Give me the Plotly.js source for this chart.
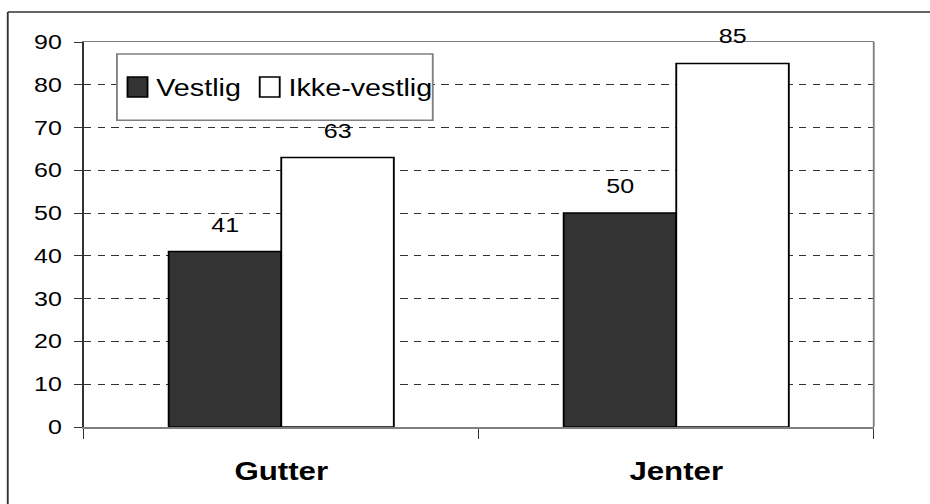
<!DOCTYPE html>
<html>
<head>
<meta charset="utf-8">
<script src="https://cdn.plot.ly/plotly-3.0.1.min.js"></script>
<style>
html,body{margin:0;padding:0;background:#fff;overflow:hidden;width:930px;height:504px;}
#chart{width:744px;height:504px;transform:scaleX(1.25);transform-origin:0 0;}
</style>
</head>
<body>
<div id="chart"></div>
<script>
const categories = ["Gutter", "Jenter"];
const seriesNames = ["Vestlig", "Ikke-vestlig"];
const vestlig = [41, 50];
const ikkeVestlig = [63, 85];
const yTicks = [0, 10, 20, 30, 40, 50, 60, 70, 80, 90];

const FONT = "Arial, 'Liberation Sans', sans-serif";
const seriesValues = [vestlig, ikkeVestlig];
const seriesFill = ["#333333", "#ffffff"];
const labelShift = [-45, 45];

const traces = seriesValues.map((vals, s) => ({
  type: "bar", name: seriesNames[s], x: categories, y: vals,
  marker: {color: seriesFill[s], line: {color: "#000000", width: 1.5}},
  hoverinfo: "skip"
}));

const annotations = [];
seriesValues.forEach((vals, s) => {
  vals.forEach((v, i) => {
    annotations.push({
      xref: "x", yref: "y", x: categories[i], y: v, text: String(v),
      showarrow: false, xanchor: "center", yanchor: "bottom",
      xshift: labelShift[s], yshift: 14,
      font: {family: FONT, size: 20, color: "#000"}
    });
  });
});

const layout = {
  width: 744, height: 504,
  margin: {l: 67, r: 45, t: 42, b: 77},
  paper_bgcolor: "#ffffff", plot_bgcolor: "#ffffff",
  font: {family: FONT, size: 20, color: "#000"},
  barmode: "group", bargap: 0.43, bargroupgap: 0,
  showlegend: true,
  legend: {
    orientation: "h", x: 0.0285, y: 0.883, xanchor: "left", yanchor: "middle",
    bgcolor: "rgba(0,0,0,0)", borderwidth: 0,
    font: {family: FONT, size: 23, color: "#000"}
  },
  xaxis: {
    type: "category", tickson: "boundaries", ticks: "outside", ticklen: 10, tickcolor: "#333", tickwidth: 1,
    showline: true, linecolor: "#808080", linewidth: 1.5, mirror: true,
    tickfont: {family: FONT, size: 25, color: "#000", weight: "bold"}, ticklabelstandoff: 22,
    showgrid: false, zeroline: false, fixedrange: true
  },
  yaxis: {
    range: [0, 90], tickvals: yTicks, ticks: "outside", ticklen: 6, tickcolor: "#333", tickwidth: 1,
    showline: true, linecolor: "#333333", linewidth: 1.5, mirror: false,
    showgrid: true, gridcolor: "#333333", gridwidth: 1, griddash: "6px,5px",
    zeroline: false, tickfont: {family: FONT, size: 20, color: "#000"}, ticklabelstandoff: 6, fixedrange: true
  },
  annotations: annotations,
  shapes: [
    {type: "line", xref: "paper", yref: "paper", x0: 1, x1: 1, y0: 0, y1: 1,
     line: {color: "#808080", width: 1.5}},
    {type: "rect", xref: "paper", yref: "paper", x0: 0.042, x1: 0.4418, y0: 0.797, y1: 0.969,
     fillcolor: "#ffffff", line: {color: "#808080", width: 1.5}, layer: "above"},
    {type: "line", xref: "paper", yref: "paper", x0: -0.0962, x1: 1.2, y0: 1.0779, y1: 1.0779,
     line: {color: "#333", width: 1.5}},
    {type: "line", xref: "paper", yref: "paper", x0: -0.0962, x1: -0.0962, y0: 1.0779, y1: -0.3,
     line: {color: "#333", width: 1.5}}
  ]
};

Plotly.newPlot("chart", traces, layout, {displayModeBar: false, staticPlot: true}).then(gd => {
  try {
    gd.querySelectorAll(".legend .legendpoints path").forEach(p => {
      p.setAttribute("d", "M13,10H-3V-10H13Z");
    });
    const items = gd.querySelectorAll(".legend .traces");
    if (items.length > 1) {
      const g = items[1];
      const t = g.getAttribute("transform") || "";
      const m = t.match(/translate\(\s*([-\d.eE]+)[ ,]+([-\d.eE]+)\s*\)/);
      if (m) {
        g.setAttribute("transform", "translate(" + (parseFloat(m[1]) - 7) + "," + m[2] + ")");
      }
    }
  } catch (e) {}
});
</script>
</body>
</html>
